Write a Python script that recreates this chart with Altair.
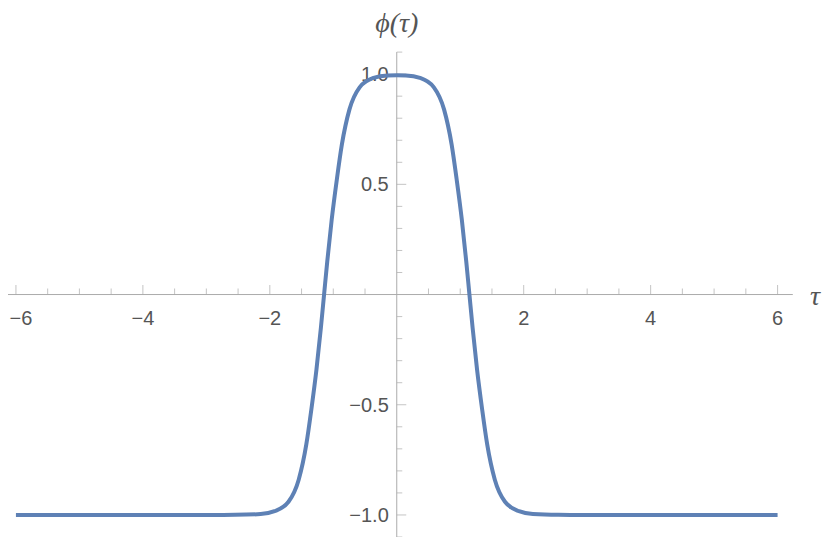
import altair as alt
import pandas as pd

# curve
tau = [-6.0, -4.0, -3.0, -2.545, -2.145, -1.925, -1.705, -1.545, -1.425, -1.345, -1.265,
       -1.195, -1.145, -1.095, -1.025, -0.945, -0.865, -0.745, -0.585, -0.365, -0.145, 0.0,
       0.145, 0.365, 0.585, 0.745, 0.865, 0.945, 1.025, 1.095, 1.145, 1.195, 1.265, 1.345,
       1.425, 1.545, 1.705, 1.925, 2.145, 2.545, 3.0, 4.0, 6.0]
phi = [-1.0, -1.0, -1.0, -0.9995, -0.996, -0.983, -0.94, -0.84, -0.68, -0.52, -0.34,
       -0.15, 0.0, 0.15, 0.34, 0.52, 0.68, 0.84, 0.94, 0.983, 0.994, 0.995,
       0.994, 0.983, 0.94, 0.84, 0.68, 0.52, 0.34, 0.15, 0.0, -0.15, -0.34, -0.52,
       -0.68, -0.84, -0.94, -0.983, -0.996, -0.9995, -1.0, -1.0, -1.0]

x_major = [-6, -4, -2, 2, 4, 6]
x_major_labels = ["−6", "−4", "−2", "2", "4", "6"]
x_minor = [-5.5, -5, -4.5, -3.5, -3, -2.5, -1.5, -1, -0.5, 0.5, 1, 1.5, 2.5, 3, 3.5, 4.5, 5, 5.5]
y_major = [-1.0, -0.5, 0.5, 1.0]
y_major_labels = ["−1.0", "−0.5", "0.5", "1.0"]
y_minor = [-1.1, -0.9, -0.8, -0.7, -0.6, -0.4, -0.3, -0.2, -0.1,
           0.1, 0.2, 0.3, 0.4, 0.6, 0.7, 0.8, 0.9, 1.1]
x_axis_ends = [-6.125, 6.24]
y_axis_ends = [-1.1, 1.1]
x_title = "τ"
y_title = "ϕ(τ)"

AX = "#ababab"
LAB = "#555555"

xs = alt.Scale(domain=[-6.125, 6.7], nice=False, zero=False)
ys = alt.Scale(domain=[-1.1, 1.3], nice=False, zero=False)

curve_df = pd.DataFrame({"t": tau, "p": phi})

xaxis_df = pd.DataFrame({"x": [x_axis_ends[0]], "x2": [x_axis_ends[1]], "y": [0.0]})
yaxis_df = pd.DataFrame({"y": [y_axis_ends[0]], "y2": [y_axis_ends[1]], "x": [0.0]})

xmaj_df = pd.DataFrame({"x": x_major, "y": [0.0] * len(x_major), "lab": x_major_labels})
xmin_df = pd.DataFrame({"x": x_minor, "y": [0.0] * len(x_minor)})
ymaj_df = pd.DataFrame({"y": y_major, "x": [0.0] * len(y_major), "lab": y_major_labels})
ymin_df = pd.DataFrame({"y": y_minor, "x": [0.0] * len(y_minor)})

X = lambda f: alt.X(f, type="quantitative", scale=xs, axis=None)
Y = lambda f: alt.Y(f, type="quantitative", scale=ys, axis=None)

xaxis = alt.Chart(xaxis_df).mark_rule(color=AX, strokeWidth=1).encode(
    x=X("x"), x2="x2", y=Y("y"))
yaxis = alt.Chart(yaxis_df).mark_rule(color=AX, strokeWidth=1).encode(
    y=Y("y"), y2="y2", x=X("x"))

xmaj_ticks = alt.Chart(xmaj_df).mark_tick(orient="vertical", size=9.5, thickness=1,
                                           yOffset=-4.75, color=AX).encode(x=X("x"), y=Y("y"))
xmin_ticks = alt.Chart(xmin_df).mark_tick(orient="vertical", size=6, thickness=1,
                                           yOffset=-3, color=AX).encode(x=X("x"), y=Y("y"))
ymaj_ticks = alt.Chart(ymaj_df).mark_tick(orient="horizontal", size=9.5, thickness=1,
                                           xOffset=4.75, color=AX).encode(x=X("x"), y=Y("y"))
ymin_ticks = alt.Chart(ymin_df).mark_tick(orient="horizontal", size=5.5, thickness=1,
                                           xOffset=2.75, color=AX).encode(x=X("x"), y=Y("y"))

# leftmost label nudged right so it stays inside the drawing
xlabels_first = alt.Chart(xmaj_df.iloc[:1]).mark_text(
    font="Liberation Sans", fontSize=20, color=LAB,
    baseline="alphabetic", align="center", dy=30, dx=5).encode(
    x=X("x"), y=Y("y"), text="lab:N")
xlabels = alt.Chart(xmaj_df.iloc[1:]).mark_text(
    font="Liberation Sans", fontSize=20, color=LAB,
    baseline="alphabetic", align="center", dy=30).encode(
    x=X("x"), y=Y("y"), text="lab:N")
ylabels = alt.Chart(ymaj_df).mark_text(font="Liberation Sans", fontSize=20, color=LAB,
                                        baseline="alphabetic", align="right", dx=-8, dy=7).encode(
    x=X("x"), y=Y("y"), text="lab:N")

xtitle = alt.Chart(pd.DataFrame({"x": [6.59], "y": [0.0], "lab": [x_title]})).mark_text(
    font="Liberation Serif", fontStyle="italic", fontSize=28, color=LAB,
    baseline="alphabetic", align="center", dy=10).encode(x=X("x"), y=Y("y"), text="lab:N")
ytitle = alt.Chart(pd.DataFrame({"x": [0.0], "y": [1.191], "lab": [y_title]})).mark_text(
    font="Liberation Serif", fontStyle="italic", fontSize=28, color=LAB,
    baseline="alphabetic", align="center").encode(x=X("x"), y=Y("y"), text="lab:N")

curve = alt.Chart(curve_df).mark_line(color="#5e81b5", strokeWidth=4,
                                      interpolate="monotone").encode(
    x=X("t"), y=Y("p"), order="t:Q")

chart = alt.layer(
    xaxis, yaxis, xmin_ticks, xmaj_ticks, ymin_ticks, ymaj_ticks,
    xlabels_first, xlabels, ylabels, xtitle, ytitle, curve
).properties(
    width=814, height=529, padding=0,
    autosize=alt.AutoSizeParams(type="none"),
).configure_view(strokeWidth=0)

chart.save("out.html", embed_options={"renderer": "svg", "actions": False})
